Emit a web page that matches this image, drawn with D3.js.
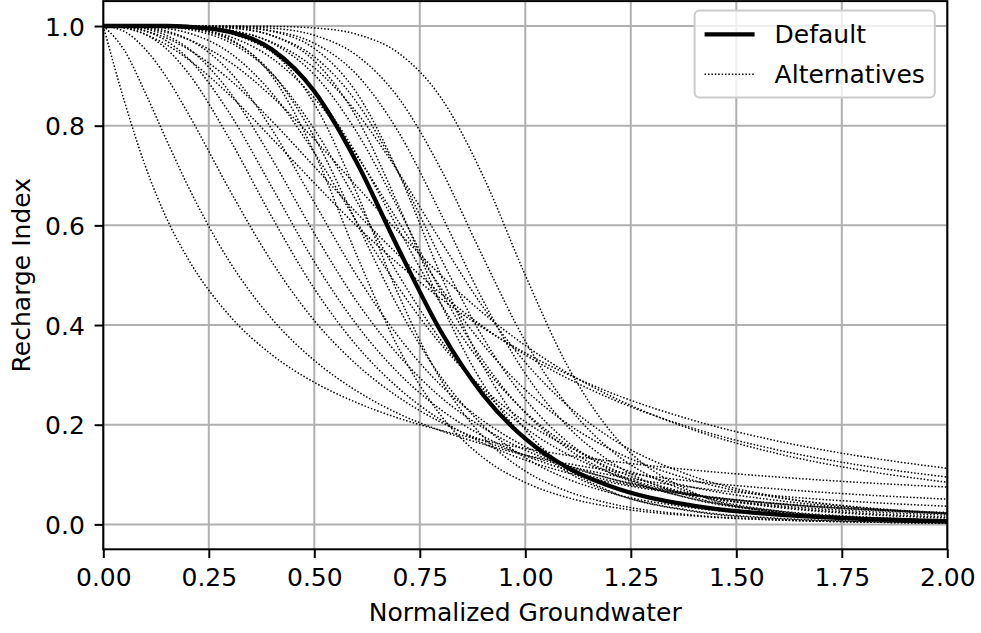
<!DOCTYPE html>
<html>
<head>
<meta charset="utf-8">
<script src="https://cdn.jsdelivr.net/npm/d3@7"></script>
<style>
  body { margin: 0; background: #ffffff; }
  svg { display: block; }
  text { font-family: "DejaVu Sans", sans-serif; }
</style>
</head>
<body>
<svg id="chart" width="981" height="633"></svg>
<script>
// ---------------- data ----------------
const xGrid = [0, 0.05, 0.1, 0.15, 0.2, 0.3, 0.4, 0.5, 0.6, 0.7, 0.8, 0.9, 1.0, 1.1, 1.2, 1.4, 1.6, 1.8, 2.0];

const defaultRecharge = [1, 1, 1, 1, 0.9985, 0.9884, 0.9529, 0.869, 0.727, 0.552, 0.387, 0.26, 0.172, 0.114, 0.0769, 0.0372, 0.0194, 0.0109, 0.0065];

const alt01 = [1, 0.849, 0.718, 0.614, 0.534, 0.418, 0.34, 0.285, 0.2445, 0.213, 0.1886, 0.169, 0.1524, 0.1388, 0.1273, 0.1088, 0.0949, 0.0838, 0.075];
const alt02 = [1, 0.951, 0.865, 0.771, 0.68, 0.526, 0.412, 0.329, 0.268, 0.222, 0.188, 0.161, 0.139, 0.122, 0.108, 0.0862, 0.0708, 0.0593, 0.0506];
const alt03 = [1, 0.989, 0.953, 0.897, 0.826, 0.67, 0.526, 0.409, 0.321, 0.255, 0.205, 0.168, 0.139, 0.117, 0.0993, 0.0739, 0.0569, 0.0449, 0.0364];
const alt04 = [1, 0.997, 0.983, 0.954, 0.907, 0.772, 0.616, 0.473, 0.359, 0.273, 0.2095, 0.163, 0.129, 0.1037, 0.0845, 0.0582, 0.0419, 0.0312, 0.0239];
const alt05 = [1, 0.9986, 0.99, 0.97, 0.936, 0.824, 0.676, 0.527, 0.401, 0.303, 0.23, 0.177, 0.138, 0.109, 0.0878, 0.0588, 0.0412, 0.03, 0.0225];
const alt06 = [1, 0.9993, 0.9943, 0.981, 0.956, 0.867, 0.733, 0.584, 0.448, 0.339, 0.255, 0.194, 0.149, 0.1166, 0.0923, 0.0601, 0.0411, 0.0292, 0.0215];
const alt07 = [1, 0.9997, 0.9973, 0.99, 0.974, 0.908, 0.792, 0.646, 0.5, 0.376, 0.279, 0.208, 0.156, 0.119, 0.0922, 0.0575, 0.0378, 0.026, 0.0185];
const alt08 = [1, 1, 0.9999, 0.9992, 0.9965, 0.974, 0.899, 0.746, 0.541, 0.353, 0.2185, 0.134, 0.084, 0.0538, 0.0355, 0.0168, 0.0087, 0.0048, 0.0029];
const alt09 = [1, 1, 0.9998, 0.9987, 0.9954, 0.972, 0.905, 0.777, 0.606, 0.434, 0.296, 0.1985, 0.1336, 0.0912, 0.0636, 0.0328, 0.0183, 0.0108, 0.0068];
const alt10 = [1, 1, 1, 0.9998, 0.9988, 0.989, 0.949, 0.844, 0.666, 0.46, 0.29, 0.176, 0.107, 0.0663, 0.0422, 0.0185, 0.009, 0.0047, 0.0026];
const alt11 = [1, 1, 0.9996, 0.9979, 0.9934, 0.967, 0.904, 0.793, 0.649, 0.5, 0.3695, 0.268, 0.1936, 0.1408, 0.1037, 0.0588, 0.0353, 0.0224, 0.0148];
const alt12 = [1, 0.9959, 0.983, 0.9625, 0.934, 0.861, 0.774, 0.685, 0.599, 0.522, 0.453, 0.394, 0.344, 0.3014, 0.265, 0.2083, 0.1668, 0.1359, 0.1125];
const alt13 = [1, 0.998, 0.99, 0.976, 0.954, 0.892, 0.809, 0.718, 0.6255, 0.54, 0.463, 0.3967, 0.34, 0.293, 0.2533, 0.1922, 0.149, 0.1178, 0.0949];
const alt14 = [1, 0.9993, 0.9955, 0.987, 0.9735, 0.9276, 0.858, 0.7725, 0.679, 0.586, 0.5, 0.424, 0.359, 0.304, 0.2585, 0.189, 0.1416, 0.1083, 0.0845];
const alt15 = [1, 0.9999, 0.9988, 0.995, 0.9864, 0.946, 0.865, 0.746, 0.608, 0.4746, 0.3614, 0.2727, 0.2059, 0.1566, 0.1205, 0.0739, 0.0477, 0.0321, 0.0224];
const alt16 = [1, 1, 0.9999, 0.9996, 0.9985, 0.991, 0.9675, 0.916, 0.827, 0.7055, 0.568, 0.436, 0.325, 0.2387, 0.1749, 0.0957, 0.0549, 0.033, 0.0208];
const alt17 = [1, 1, 0.9997, 0.9986, 0.9957, 0.9786, 0.935, 0.8555, 0.7406, 0.6065, 0.4746, 0.3607, 0.2701, 0.2018, 0.1515, 0.0879, 0.0534, 0.0341, 0.0226];
const alt18 = [1, 1, 1, 1, 1, 0.9999, 0.9993, 0.9961, 0.9835, 0.9455, 0.8563, 0.699, 0.5, 0.318, 0.1887, 0.0634, 0.0228, 0.009, 0.0039];
const alt19 = [1, 1, 1, 1, 1, 0.9993, 0.9956, 0.9814, 0.9414, 0.8553, 0.7126, 0.5357, 0.3677, 0.2384, 0.151, 0.0613, 0.0267, 0.0126, 0.0064];
const alt20 = [1, 1, 1, 1, 0.9999, 0.9983, 0.9906, 0.9653, 0.903, 0.7866, 0.6231, 0.4493, 0.3024, 0.1966, 0.1268, 0.0544, 0.0252, 0.0126, 0.0067];
const alt21 = [1, 1, 1, 1, 0.9996, 0.996, 0.981, 0.9382, 0.8478, 0.7048, 0.5338, 0.3747, 0.2513, 0.1658, 0.1096, 0.0501, 0.0247, 0.0131, 0.0074];
const alt22 = [1, 1, 1, 1, 0.9999, 0.9983, 0.9891, 0.955, 0.8665, 0.7044, 0.5, 0.3176, 0.19, 0.1121, 0.0669, 0.0256, 0.0109, 0.0051, 0.0026];
const alt23 = [1, 1, 1, 1, 0.9989, 0.9917, 0.9657, 0.9023, 0.7878, 0.6321, 0.4683, 0.3284, 0.224, 0.152, 0.104, 0.0509, 0.0268, 0.015, 0.0089];
const alt24 = [1, 1, 1, 1, 0.9997, 0.9965, 0.9807, 0.93, 0.817, 0.6392, 0.4428, 0.2817, 0.1724, 0.1053, 0.0652, 0.0269, 0.0123, 0.0061, 0.0032];
const alt25 = [1, 1, 0.9999, 0.9993, 0.9975, 0.985, 0.9472, 0.868, 0.7434, 0.5915, 0.4425, 0.3186, 0.2253, 0.1593, 0.1135, 0.0601, 0.0339, 0.0202, 0.0127];

const alternativeSeries = [alt01, alt02, alt03, alt04, alt05, alt06, alt07, alt08, alt09, alt10,
  alt11, alt12, alt13, alt14, alt15, alt16, alt17, alt18, alt19, alt20, alt21, alt22, alt23, alt24, alt25];

const xTickValues = [0, 0.25, 0.5, 0.75, 1.0, 1.25, 1.5, 1.75, 2.0];
const yTickValues = [0, 0.2, 0.4, 0.6, 0.8, 1.0];
const legendLabels = ["Default", "Alternatives"];
const xAxisTitle = "Normalized Groundwater";
const yAxisTitle = "Recharge Index";

// ---------------- layout ----------------
const FS = 25;
const plotL = 103.3, plotR = 947.3, plotT = 1.1, plotB = 549.3;
const x = d3.scaleLinear().domain([0, 2]).range([plotL, plotR]);
const y = d3.scaleLinear().domain([-0.05, 1.05]).range([plotB, plotT]);

const THICK = 4.3, THIN = 1.5, DOTS = "1.5,1.9";

const svg = d3.select("#chart");

svg.append("defs").append("clipPath").attr("id", "plotClip")
  .append("rect").attr("x", plotL).attr("y", plotT)
  .attr("width", plotR - plotL).attr("height", plotB - plotT);

// grid
const grid = svg.append("g").attr("class", "grid");
grid.selectAll("line.gx").data(xTickValues).join("line").attr("class", "gx")
  .attr("x1", d => x(d)).attr("x2", d => x(d))
  .attr("y1", plotT).attr("y2", plotB)
  .attr("stroke", "#b0b0b0").attr("stroke-width", 2);
grid.selectAll("line.gy").data(yTickValues).join("line").attr("class", "gy")
  .attr("x1", plotL).attr("x2", plotR)
  .attr("y1", d => y(d)).attr("y2", d => y(d))
  .attr("stroke", "#b0b0b0").attr("stroke-width", 2);

// curves
const line = d3.line()
  .x((d, i) => x(xGrid[i]))
  .y(d => y(d))
  .curve(d3.curveMonotoneX);

const curves = svg.append("g").attr("clip-path", "url(#plotClip)");
curves.selectAll("path.alt").data(alternativeSeries).join("path").attr("class", "alt")
  .attr("d", line)
  .attr("fill", "none")
  .attr("stroke", "#000")
  .attr("stroke-width", THIN)
  .attr("stroke-dasharray", DOTS);

curves.append("path").datum(defaultRecharge)
  .attr("d", line)
  .attr("fill", "none")
  .attr("stroke", "#000")
  .attr("stroke-width", THICK)
  .attr("stroke-linejoin", "round");

// spines
svg.append("rect")
  .attr("x", plotL).attr("y", plotT)
  .attr("width", plotR - plotL).attr("height", plotB - plotT)
  .attr("fill", "none").attr("stroke", "#000").attr("stroke-width", 2);

// axes
const xAxis = d3.axisBottom(x).tickValues(xTickValues).tickFormat(d3.format(".2f"))
  .tickSize(8.75).tickPadding(8.75);
svg.append("g").attr("transform", `translate(0,${plotB})`).call(xAxis)
  .call(g => g.select(".domain").remove())
  .call(g => g.selectAll(".tick line").attr("stroke", "#000").attr("stroke-width", 2))
  .call(g => g.selectAll(".tick text")
    .attr("y", 37.2).attr("dy", null)
    .attr("fill", "#000").style("font-size", FS + "px")
    .style("font-family", "'DejaVu Sans', sans-serif"));

const yAxis = d3.axisLeft(y).tickValues(yTickValues).tickFormat(d3.format(".1f"))
  .tickSize(8.75).tickPadding(8.75);
svg.append("g").attr("transform", `translate(${plotL},0)`).call(yAxis)
  .call(g => g.select(".domain").remove())
  .call(g => g.selectAll(".tick line").attr("stroke", "#000").attr("stroke-width", 2))
  .call(g => g.selectAll(".tick text")
    .attr("x", -18.5).attr("dy", "0.365em")
    .attr("fill", "#000").style("font-size", FS + "px")
    .style("font-family", "'DejaVu Sans', sans-serif"));

// axis titles
svg.append("text")
  .attr("x", (plotL + plotR) / 2).attr("y", 621)
  .attr("text-anchor", "middle")
  .style("font-size", FS + "px").attr("fill", "#000")
  .text(xAxisTitle);

svg.append("text")
  .attr("transform", `translate(29.5,${(plotT + plotB) / 2}) rotate(-90)`)
  .attr("text-anchor", "middle")
  .style("font-size", FS + "px").attr("fill", "#000")
  .text(yAxisTitle);

// legend
const legRight = plotR - 12.5, legTop = 10.5;
const pad = 10, handleLen = 50, handleGap = 20, rowGap = 40;
const legend = svg.append("g");
const frame = legend.append("rect");
const items = legend.selectAll("g.item").data(legendLabels).join("g").attr("class", "item");
const texts = items.append("text")
  .style("font-size", FS + "px").attr("fill", "#000")
  .attr("dy", "0.365em")
  .text(d => d);
let maxW = 0;
texts.each(function () { maxW = Math.max(maxW, this.getComputedTextLength()); });
const legW = pad + handleLen + handleGap + maxW + pad;
const legH = 87;
const legLeft = legRight - legW;
frame.attr("x", legLeft).attr("y", legTop).attr("width", legW).attr("height", legH)
  .attr("rx", 5).attr("ry", 5)
  .attr("fill", "#ffffff").attr("fill-opacity", 0.8)
  .attr("stroke", "#cccccc").attr("stroke-width", 2);
items.attr("transform", (d, i) => `translate(${legLeft + pad},${legTop + 23.8 + i * rowGap})`);
texts.attr("x", handleLen + handleGap);
items.append("line")
  .attr("x1", 0).attr("x2", handleLen).attr("y1", 0).attr("y2", 0)
  .attr("stroke", "#000")
  .attr("stroke-width", (d, i) => i === 0 ? THICK : THIN)
  .attr("stroke-dasharray", (d, i) => i === 0 ? null : DOTS);
</script>
</body>
</html>
